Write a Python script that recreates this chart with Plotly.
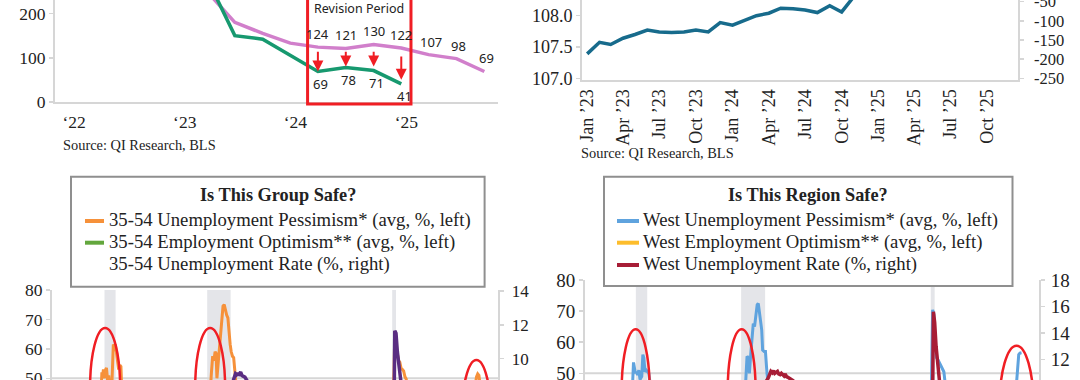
import plotly.graph_objects as go

W, H = 1080, 380
SERIF = "Liberation Serif"
SANS = "Noto Sans"
TXT = "#222222"
AXC = "#d6d6d6"

# ---------------- Panel A (top-left): payroll 3-mo avg, initial vs revised ----------------
pay_dates = ["2023-03-15", "2023-06-15", "2023-09-15", "2023-12-15", "2024-03-15", "2024-06-15",
             "2024-09-15", "2024-12-15", "2025-03-15", "2025-06-15", "2025-09-15"]
pay_initial = [250, 180, 155, 133, 124, 121, 130, 122, 107, 98, 69]
pay_revised = [280, 150, 142, 106, 69, 78, 71, 41]
pay_label_from = 4          # first labelled point (Mar 2024)
pay_xticks = ["2022-01-01", "2023-01-01", "2024-01-01", "2025-01-01"]
pay_xticktext = ["‘22", "‘23", "‘24", "‘25"]
pay_yticks = [0, 100, 200]
revision_window = ["2024-02-10", "2025-01-16"]
arrow_tail = [117, 117, 117, 106]
arrow_tip = [69, 80, 80, 50]

# ---------------- Panel B (top-right): index level (left) and revisions axis (right) ----------------
idx_dates = [f"{y}-{m:02d}-01" for y in (2023, 2024) for m in range(1, 13)]
idx_values = [107.39, 107.575, 107.54, 107.64, 107.70, 107.77, 107.74, 107.73, 107.74, 107.77, 107.74, 107.89,
              107.85, 107.92, 108.00, 108.04, 108.12, 108.11, 108.09, 108.05, 108.16, 108.06, 108.28, 108.55]
idx_xticks = [f"{y}-{m:02d}-01" for y in (2023, 2024, 2025) for m in (1, 4, 7, 10)]
idx_xticktext = [f"{mn} ’{str(y)[2:]}" for y in (2023, 2024, 2025) for mn in ("Jan", "Apr", "Jul", "Oct")]
idx_yticks = [107.0, 107.5, 108.0]
rev_yticks = [-250, -200, -150, -100, -50]

# ---------------- Panel C (bottom-left): 35-54 group ----------------
grp_pess_t = [1998.0, 2000.9, 2000.95, 2001.0, 2001.05, 2001.1, 2001.15, 2001.2, 2001.3, 2001.38, 2001.45,
              2001.52, 2001.65, 2001.7, 2001.75, 2001.82, 2001.88, 2001.95, 2002.02, 2002.1, 2002.18,
              2002.25, 2002.3, 2004.0, 2006.0, 2008.1, 2008.2, 2008.28, 2008.36, 2008.44, 2008.5, 2008.56,
              2008.64, 2008.72, 2008.8, 2008.88, 2008.96, 2009.04, 2009.12, 2009.2, 2009.28, 2009.36,
              2009.43, 2009.5, 2009.58, 2009.66, 2009.72, 2009.78, 2009.85, 2012.0, 2016.0, 2020.1,
              2020.2, 2020.25, 2020.3, 2020.36, 2020.42, 2020.5, 2020.58, 2020.66, 2020.75, 2020.83,
              2020.92, 2021.0, 2021.08, 2023.0, 2025.4, 2025.55, 2025.62, 2025.7, 2025.78, 2025.85]
grp_pess_v = [40, 44, 46, 52, 51, 53, 50, 52.5, 53.5, 49, 51,
              47, 47, 59, 61.5, 61, 61.5, 59, 56, 53, 54.5,
              54, 47, 38, 35, 44, 52, 57.5, 56, 59, 58.5, 50,
              55, 60, 66, 70, 74.5, 75, 73, 71.5, 70.5, 64,
              61.5, 59, 57.5, 57, 53, 49.5, 46, 40, 34, 42,
              52, 66, 65, 60, 57.5, 56, 55.5, 53.5, 53, 52.5,
              50.5, 49.8, 46, 40, 45, 48, 50.5, 51.5, 51, 48]
grp_opt_t = [1998.0, 2001.0, 2005.0, 2009.0, 2015.0, 2020.3, 2023.0, 2025.8]
grp_opt_v = [30, 25, 28, 15, 30, 20, 32, 28]
grp_ur_t = [1998.0, 2000.5, 2002.0, 2003.5, 2006.5, 2008.0, 2008.8, 2009.3, 2009.6, 2009.7, 2009.78,
            2009.84, 2009.9, 2009.97, 2010.05, 2010.12, 2010.2, 2010.3, 2010.4, 2010.5, 2010.6, 2011.5,
            2013.0, 2016.0, 2019.9, 2020.17, 2020.25, 2020.33, 2020.42, 2020.5, 2020.58, 2021.0, 2022.0, 2025.7]
grp_ur_v = [3.5, 3.0, 4.8, 5.0, 3.7, 4.0, 5.8, 8.0, 8.6, 8.85, 9.1,
            9.05, 9.15, 9.0, 9.1, 9.2, 9.0, 8.95, 8.9, 8.75, 8.6, 7.8,
            6.5, 4.2, 3.0, 3.8, 11.65, 11.5, 10.4, 9.3, 8.5, 6.0, 3.2, 3.6]

# ---------------- Panel D (bottom-right): West region ----------------
west_pess_t = [1998.0, 2000.95, 2001.02, 2001.08, 2001.14, 2001.2, 2001.28, 2001.36, 2001.44, 2001.55,
               2001.62, 2001.68, 2001.76, 2001.84, 2001.92, 2002.0, 2002.08, 2004.0, 2008.2, 2008.3,
               2008.38, 2008.45, 2008.55, 2008.62, 2008.7, 2008.78, 2008.87, 2008.95, 2009.02, 2009.1,
               2009.17, 2009.24, 2009.3, 2009.4, 2009.48, 2009.55, 2009.62, 2014.0, 2020.12, 2020.2,
               2020.28, 2020.36, 2020.45, 2020.55, 2020.65, 2020.75, 2020.85, 2020.92, 2021.0, 2023.0,
               2025.55, 2025.65, 2025.72, 2025.8, 2025.9]
west_pess_v = [40, 45, 53.5, 52, 50, 50.5, 49.5, 51, 48, 49,
               56, 55, 50.5, 51, 50.5, 50, 47, 38, 46, 55.5,
               55, 50, 57, 62, 66, 65, 68, 72, 72.5, 69,
               65, 64, 57.5, 57, 57, 50, 47, 36, 45, 70.4,
               69, 60, 55, 54.3, 53.3, 52, 51, 50.5, 47, 40,
               45, 53, 56, 56.5, 56.6]
west_opt_t = [1998.0, 2001.0, 2005.0, 2009.0, 2015.0, 2020.3, 2023.0, 2025.8]
west_opt_v = [32, 27, 30, 18, 31, 22, 33, 29]
west_ur_t = [1998.0, 2000.5, 2002.5, 2006.5, 2008.0, 2009.0, 2009.5, 2009.66, 2009.75, 2009.83, 2009.92,
             2010.0, 2010.08, 2010.17, 2010.25, 2010.33, 2010.42, 2010.5, 2010.58, 2010.67, 2010.75,
             2010.83, 2010.92, 2011.0, 2011.1, 2011.25, 2012.0, 2015.0, 2019.9, 2020.17, 2020.25,
             2020.33, 2020.42, 2020.5, 2020.58, 2020.67, 2021.5, 2023.0, 2025.7]
west_ur_v = [6.0, 4.5, 6.5, 4.5, 6.0, 9.0, 10.3, 10.6, 10.95, 11.1, 11.0,
             11.15, 10.95, 11.0, 11.1, 10.9, 10.85, 10.95, 10.8, 10.75, 10.9,
             10.7, 10.65, 10.6, 10.5, 10.4, 9.5, 6.5, 4.2, 5.5, 15.6,
             14.8, 13.0, 11.8, 10.8, 10.0, 7.5, 4.8, 5.5]

recessions = [(2001.17, 2001.9), (2007.92, 2009.46), (2020.08, 2020.33)]

# ------------------------------------------------------------------------------------------
C_PINK = "#d17fcb"
C_GREEN = "#17996f"
C_TEAL = "#176b8c"
C_ORANGE = "#f6913a"
C_OPT_GREEN = "#63a73d"
C_PURPLE = "#5a2d82"
C_BLUE = "#5fa3de"
C_YELLOW = "#fdbd2c"
C_DRED = "#a71d36"
C_RED = "#f01e24"
C_BAND = "#e4e5e9"

fig = go.Figure()

# Panel A
fig.add_trace(go.Scatter(x=pay_dates, y=pay_initial, mode="lines", line=dict(color=C_PINK, width=3.5),
                         xaxis="x", yaxis="y", showlegend=False))
fig.add_trace(go.Scatter(x=pay_dates[:len(pay_revised)], y=pay_revised, mode="lines",
                         line=dict(color=C_GREEN, width=3.5), xaxis="x", yaxis="y", showlegend=False))
# Panel B
fig.add_trace(go.Scatter(x=idx_dates, y=idx_values, mode="lines", line=dict(color=C_TEAL, width=3.5),
                         xaxis="x2", yaxis="y2", showlegend=False))
# right-hand (revisions) axis of panel B: its series lies outside the visible crop
fig.add_trace(go.Scatter(x=idx_dates[:1], y=[None], mode="lines", xaxis="x2", yaxis="y3",
                         showlegend=False, hoverinfo="skip"))
# Panel C
fig.add_trace(go.Scatter(x=grp_opt_t, y=grp_opt_v, mode="lines", line=dict(color=C_OPT_GREEN, width=3),
                         xaxis="x3", yaxis="y4", showlegend=False))
fig.add_trace(go.Scatter(x=grp_pess_t, y=grp_pess_v, mode="lines", line=dict(color=C_ORANGE, width=3),
                         xaxis="x3", yaxis="y4", showlegend=False))
fig.add_trace(go.Scatter(x=grp_ur_t, y=grp_ur_v, mode="lines", line=dict(color=C_PURPLE, width=3.5),
                         xaxis="x3", yaxis="y5", showlegend=False))
# Panel D
fig.add_trace(go.Scatter(x=west_opt_t, y=west_opt_v, mode="lines", line=dict(color=C_YELLOW, width=3),
                         xaxis="x4", yaxis="y6", showlegend=False))
fig.add_trace(go.Scatter(x=west_pess_t, y=west_pess_v, mode="lines", line=dict(color=C_BLUE, width=3),
                         xaxis="x4", yaxis="y6", showlegend=False))
fig.add_trace(go.Scatter(x=west_ur_t, y=west_ur_v, mode="lines", line=dict(color=C_DRED, width=3.5),
                         xaxis="x4", yaxis="y7", showlegend=False))


def px(x):
    return x / W


def py(y):
    return 1 - y / H


tickf = dict(family=SERIF, size=17.5, color=TXT)
common = dict(showgrid=False, zeroline=False, showline=True, linecolor=AXC, linewidth=2, automargin=False,
              ticks="outside", ticklen=4, tickcolor=AXC, tickwidth=1.5, tickfont=tickf,
              ticklabeloverflow="allow")

layout = dict(
    template="none",
    width=W, height=H, autosize=False,
    margin=dict(l=0, r=0, t=0, b=0, pad=0, autoexpand=False),
    paper_bgcolor="white", plot_bgcolor="rgba(0,0,0,0)", showlegend=False, hovermode=False,
    # Panel A
    xaxis=dict(common, domain=[px(55), px(498)], anchor="y", type="date",
               range=["2021-10-30", "2025-10-30"], tickvals=pay_xticks, ticktext=pay_xticktext,
               ticks="", ticklabelstandoff=3),
    yaxis=dict(common, domain=[py(102), 1], anchor="x", range=[0, 230.5], tickvals=pay_yticks),
    # Panel B
    xaxis2=dict(common, domain=[px(582), px(1017.7)], anchor="y2", type="date",
                range=["2022-12-19", "2025-12-17"], tickvals=idx_xticks, ticktext=idx_xticktext,
                tickangle=-90, ticks="", tickfont=dict(family=SERIF, size=18, color=TXT)),
    yaxis2=dict(common, domain=[py(80), 1], anchor="x2", range=[106.973, 108.251],
                tickvals=idx_yticks, tickformat=".1f", tickfont=dict(family=SERIF, size=18, color=TXT)),
    yaxis3=dict(common, overlaying="y2", side="right", anchor="x2", range=[-254.4, -45.6],
                tickvals=rev_yticks, ticktext=[str(v) for v in rev_yticks],
                tickfont=dict(family=SERIF, size=16.5, color=TXT), ticklabelstandoff=7),
    # Panel C
    xaxis3=dict(domain=[px(52), px(498.4)], anchor="y4", range=[1997.72, 2027.06], visible=False,
                automargin=False),
    yaxis4=dict(common, domain=[0, py(290)], anchor="x3", range=[49.42, 80], tickvals=[50, 60, 70, 80]),
    yaxis5=dict(common, overlaying="y4", side="right", anchor="x3", range=[8.73, 14.06],
                tickvals=[8, 10, 12, 14], tickfont=dict(family=SERIF, size=17, color=TXT),
                ticklabelstandoff=4),
    # Panel D
    xaxis4=dict(domain=[px(585), px(1039)], anchor="y6", range=[1997.91, 2027.02], visible=False,
                automargin=False),
    yaxis6=dict(common, domain=[0, py(280)], anchor="x4", range=[47.85, 80], tickvals=[50, 60, 70, 80],
                tickfont=dict(family=SERIF, size=19, color=TXT)),
    yaxis7=dict(common, overlaying="y6", side="right", anchor="x4", range=[10.45, 18.0],
                tickvals=[12, 14, 16, 18], tickfont=dict(family=SERIF, size=19, color=TXT),
                ticklabelstandoff=2),
)
fig.update_layout(**layout)

shapes = []
annotations = []

# ---- Panel A decorations ----
shapes.append(dict(type="rect", xref="x", yref="paper", x0=revision_window[0], x1=revision_window[1],
                   y0=py(104), y1=1.05, line=dict(color=C_RED, width=3), layer="above"))
annotations.append(dict(xref="paper", yref="paper", x=px(358.5), y=py(8.5), text="Revision Period",
                        showarrow=False, font=dict(family=SANS, size=12.5, color=TXT),
                        xanchor="center", yanchor="middle"))
for i in range(pay_label_from, len(pay_initial)):
    annotations.append(dict(xref="x", yref="y", x=pay_dates[i], y=pay_initial[i], text=str(pay_initial[i]),
                            showarrow=False, yshift=13, xshift=0 if i < 8 else 2,
                            font=dict(family=SANS, size=13, color=TXT)))
for i in range(pay_label_from, len(pay_revised)):
    annotations.append(dict(xref="x", yref="y", x=pay_dates[i], y=pay_revised[i], text=str(pay_revised[i]),
                            showarrow=False, yshift=-12.5, xshift=3,
                            font=dict(family=SANS, size=13, color=TXT)))
for k, i in enumerate(range(pay_label_from, len(pay_revised))):
    annotations.append(dict(xref="x", yref="y", x=pay_dates[i], y=arrow_tip[k], ax=pay_dates[i],
                            ay=arrow_tail[k], axref="x", ayref="y", text="", showarrow=True,
                            arrowhead=2, arrowsize=1.1, arrowwidth=2, arrowcolor=C_RED, standoff=0))
annotations.append(dict(xref="paper", yref="paper", x=px(61), y=py(145), text="Source: QI Research, BLS",
                        showarrow=False, xanchor="left", yanchor="middle",
                        font=dict(family=SERIF, size=14.4, color=TXT)))
annotations.append(dict(xref="paper", yref="paper", x=px(579), y=py(153), text="Source: QI Research, BLS",
                        showarrow=False, xanchor="left", yanchor="middle",
                        font=dict(family=SERIF, size=14.4, color=TXT)))

# ---- Bottom panels: recession bands, 50 line, ellipses ----
for xa, ya in (("x3", "y4"), ("x4", "y6")):
    for r0, r1 in recessions:
        shapes.append(dict(type="rect", xref=xa, yref=f"{ya} domain", x0=r0, x1=r1, y0=0, y1=1,
                           fillcolor=C_BAND, line=dict(width=0), layer="below"))
    shapes.append(dict(type="line", xref=f"{xa} domain", yref=ya, x0=0, x1=1, y0=50, y1=50,
                       line=dict(color=AXC, width=2), layer="below"))

ellipses_c = [(2000.22, 2002.2, 26.3, 67.1), (2007.13, 2009.10, 26.3, 67.1), (2024.63, 2026.6, 15.4, 56.2)]
ellipses_d = [(2000.26, 2002.06, 24.3, 64.15), (2007.06, 2008.85, 24.3, 64.15), (2024.49, 2026.67, 20.3, 58.9)]
for x0, x1, y0, y1 in ellipses_c:
    shapes.append(dict(type="circle", xref="x3", yref="y4", x0=x0, x1=x1, y0=y0, y1=y1,
                       line=dict(color=C_RED, width=2.5), layer="above"))
for x0, x1, y0, y1 in ellipses_d:
    shapes.append(dict(type="circle", xref="x4", yref="y6", x0=x0, x1=x1, y0=y0, y1=y1,
                       line=dict(color=C_RED, width=2.5), layer="above"))

# ---- Legend boxes (drawn manually) ----
legend_specs = [
    dict(box=(71, 484.6, 176.7, 286.7), title="Is This Group Safe?", tx=277.5,
         sample=(85, 104), textx=107,
         items=[("35-54 Unemployment Pessimism* (avg, %, left)", C_ORANGE),
                ("35-54 Employment Optimism** (avg, %, left)", C_OPT_GREEN),
                ("35-54 Unemployment Rate (%, right)", None)]),
    dict(box=(604, 1012.5, 176.7, 286), title="Is This Region Safe?", tx=808,
         sample=(617, 639), textx=641,
         items=[("West Unemployment Pessimism* (avg, %, left)", C_BLUE),
                ("West Employment Optimism** (avg, %, left)", C_YELLOW),
                ("West Unemployment Rate (%, right)", C_DRED)]),
]
item_y = [220, 241.7, 264]
for spec in legend_specs:
    bx0, bx1, by0, by1 = spec["box"]
    shapes.append(dict(type="rect", xref="paper", yref="paper", x0=px(bx0), x1=px(bx1), y0=py(by1), y1=py(by0),
                       fillcolor="white", line=dict(color="#8f8f8f", width=2), layer="above"))
    annotations.append(dict(xref="paper", yref="paper", x=px(spec["tx"]), y=py(195), text=f"<b>{spec['title']}</b>",
                            showarrow=False, xanchor="center", yanchor="middle",
                            font=dict(family=SERIF, size=18.3, color=TXT)))
    for (label, col), yy in zip(spec["items"], item_y):
        if col:
            shapes.append(dict(type="line", xref="paper", yref="paper", x0=px(spec["sample"][0]),
                               x1=px(spec["sample"][1]), y0=py(yy + 1), y1=py(yy + 1),
                               line=dict(color=col, width=4), layer="above"))
        annotations.append(dict(xref="paper", yref="paper", x=px(spec["textx"]), y=py(yy), text=label,
                                showarrow=False, xanchor="left", yanchor="middle",
                                font=dict(family=SERIF, size=18.7, color=TXT)))

fig.update_layout(shapes=shapes, annotations=annotations)
fig.write_html("out.html", config={"displayModeBar": False, "staticPlot": True},
               post_script="document.body.style.margin='0';document.body.style.overflow='hidden';")
